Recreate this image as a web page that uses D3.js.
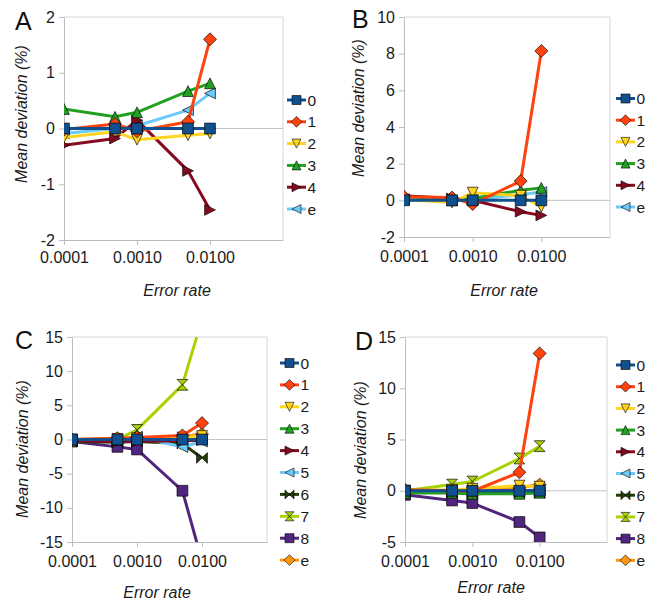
<!DOCTYPE html>
<html><head><meta charset="utf-8">
<script src="https://cdn.jsdelivr.net/npm/d3@7"></script>
<style>html,body{margin:0;padding:0;background:#fff;} svg{display:block;font-family:"Liberation Sans",Arial,sans-serif;}</style>
</head><body>
<svg id="chart" width="660" height="602"></svg>
<script>
// ---- data ----
const errorRates = [0.0001, 0.0005, 0.001, 0.005, 0.01];
const xTickValues = [0.0001, 0.001, 0.01];
const xTickLabels = ["0.0001", "0.0010", "0.0100"];

const seriesNamesAB = ["0", "1", "2", "3", "4", "e"];
const seriesNamesCD = ["0", "1", "2", "3", "4", "5", "6", "7", "8", "e"];

const yTicksA = [-2, -1, 0, 1, 2];
const yTicksB = [-2, 0, 2, 4, 6, 8, 10];
const yTicksC = [-15, -10, -5, 0, 5, 10, 15];
const yTicksD = [-5, 0, 5, 10, 15];

const valuesA = [
  [0, 0, 0, 0, 0],
  [-0.02, 0.08, -0.05, 0.12, 1.6],
  [-0.16, -0.06, -0.2, -0.12, -0.09],
  [0.35, 0.21, 0.29, 0.67, 0.81],
  [-0.3, -0.18, 0.15, -0.76, -1.46],
  [-0.09, 0.0, 0.05, 0.33, 0.63]
];
const valuesB = [
  [0, 0, 0, 0, 0],
  [0.2, 0.15, -0.2, 1.05, 8.15],
  [0.05, -0.12, 0.42, 0.25, -0.35],
  [0.1, 0.0, 0.1, 0.55, 0.68],
  [0.25, 0.1, 0.0, -0.62, -0.82],
  [0.05, 0.0, 0.05, 0.3, 0.45]
];
const valuesC = [
  [0, 0, 0, 0, 0],
  [0, 0.2, 0.3, 0.6, 2.4],
  [0, 0.1, 0.2, 0.3, 0.5],
  [0, 0.0, 0.1, 0.2, 0.3],
  [-0.2, -0.3, -0.3, -0.2, -0.1],
  [0, 0.0, 0.4, -1.1, -0.3],
  [-0.3, -0.4, -0.3, -0.6, -2.7],
  [-0.2, 0.0, 1.4, 8.0, 17.6],
  [-0.3, -1.08, -1.46, -7.5, -17.8],
  [0, 0.1, 0.2, 0.4, 0.8]
];
const valuesD = [
  [0, 0, 0, 0, 0],
  [0.1, 0.0, -0.05, 1.8, 13.4],
  [0, 0.1, 0.2, 0.5, 0.4],
  [-0.2, -0.2, -0.3, -0.3, -0.2],
  [0, 0, 0, 0, 0],
  [0, 0, 0, 0, 0.1],
  [-0.2, -0.2, -0.3, -0.2, -0.2],
  [0, 0.6, 0.9, 3.15, 4.35],
  [-0.4, -0.95, -1.2, -3.05, -4.55],
  [0, 0, 0, 0.3, 0.6]
];

// ---- styles ----
const colorsAB = ["#11508f", "#ff420e", "#ffd320", "#22a022", "#850a20", "#6ccaf8"];
const shapesAB = ["square", "diamond", "down", "up", "right", "left"];
const colorsCD = ["#11508f", "#ff420e", "#ffd320", "#22a022", "#850a20", "#6ccaf8", "#263d0a", "#a8d200", "#51257e", "#ff950e"];
const shapesCD = ["square", "diamond", "down", "up", "right", "left", "bowtie", "hourglass", "square", "diamond"];

function markerPath(type, r) {
  switch (type) {
    case "square": return `M${-r},${-r}H${r}V${r}H${-r}Z`;
    case "diamond": { const q = r * 1.2; return `M0,${-q}L${q},0L0,${q}L${-q},0Z`; }
    case "down": return `M${-r},${-r}L${r},${-r}L0,${r}Z`;
    case "up": return `M0,${-r}L${r},${r}L${-r},${r}Z`;
    case "right": return `M${-r},${-r}L${r},0L${-r},${r}Z`;
    case "left": return `M${r},${-r}L${-r},0L${r},${r}Z`;
    case "bowtie": return `M${-r},${-r}L${r},${r}L${r},${-r}L${-r},${r}Z`;
    case "hourglass": return `M${-r},${-r}L${r},${-r}L${-r},${r}L${r},${r}Z`;
  }
}

const svg = d3.select("#chart");

const panels = [
  { id: "A", names: seriesNamesAB, values: valuesA, colors: colorsAB, shapes: shapesAB, yDomain: [-2, 2], yTicks: yTicksA,
    plot: { x0: 64, x1: 283, y0: 17, y1: 240 }, legend: { x: 287, y: 100, dy: 21.8 },
    letter: { x: 15, y: 30 }, ylab: { x: 27, cy: 114 }, xlab: { cx: 177, y: 296 }, xpad: 7 },
  { id: "B", names: seriesNamesAB, values: valuesB, colors: colorsAB, shapes: shapesAB, yDomain: [-2, 10], yTicks: yTicksB,
    plot: { x0: 404, x1: 610, y0: 17, y1: 237 }, legend: { x: 616, y: 98.5, dy: 21.7 },
    letter: { x: 352, y: 28 }, ylab: { x: 364, cy: 108 }, xlab: { cx: 504, y: 296 }, xpad: 9 },
  { id: "C", names: seriesNamesCD, values: valuesC, colors: colorsCD, shapes: shapesCD, yDomain: [-15, 15], yTicks: yTicksC,
    plot: { x0: 72, x1: 267, y0: 337, y1: 542 }, legend: { x: 280, y: 363, dy: 21.9 },
    letter: { x: 15, y: 349 }, ylab: { x: 28, cy: 449 }, xlab: { cx: 157, y: 598 }, xpad: 9 },
  { id: "D", names: seriesNamesCD, values: valuesD, colors: colorsCD, shapes: shapesCD, yDomain: [-5, 15], yTicks: yTicksD,
    plot: { x0: 405, x1: 607, y0: 337, y1: 542 }, legend: { x: 616, y: 365, dy: 21.7 },
    letter: { x: 355, y: 350 }, ylab: { x: 366, cy: 450 }, xlab: { cx: 491, y: 593 }, xpad: 9 }
];

panels.forEach(p => {
  const g = svg.append("g");
  const { x0, x1, y0, y1 } = p.plot;
  const x = d3.scaleLog().domain([1e-4, 1e-1]).range([x0, x1]);
  const y = d3.scaleLinear().domain(p.yDomain).range([y1, y0]);

  // frame (top/right)
  g.append("path").attr("d", `M${x0},${y0}H${x1}V${y1}`).attr("fill", "none").attr("stroke", "#d6d6d6").attr("stroke-width", 1);
  // zero line
  g.append("line").attr("x1", x0).attr("x2", x1).attr("y1", y(0)).attr("y2", y(0)).attr("stroke", "#c4c4c4").attr("stroke-width", 1);

  const yAxis = d3.axisLeft(y).tickValues(p.yTicks).tickSize(5).tickSizeOuter(0).tickPadding(4).tickFormat(d => String(d));
  const ya = g.append("g").attr("transform", `translate(${x0},0)`).call(yAxis);
  const xAxis = d3.axisBottom(x).tickValues(xTickValues).tickSize(5).tickSizeOuter(0).tickPadding(p.xpad).tickFormat((d, i) => xTickLabels[i]);
  const xa = g.append("g").attr("transform", `translate(0,${y1})`).call(xAxis);
  [ya, xa].forEach(a => {
    a.select(".domain").attr("stroke", "#bdbdbd");
    a.selectAll(".tick line").attr("stroke", "#bdbdbd");
    a.selectAll(".tick text").attr("fill", "#1a1a1a").style("font-size", "16px").style("font-family", "'Liberation Sans',Arial,sans-serif");
  });

  // clip
  const clipId = "clip" + p.id;
  g.append("clipPath").attr("id", clipId).append("rect").attr("x", x0).attr("y", y0).attr("width", x1 - x0).attr("height", y1 - y0);
  const plotG = g.append("g").attr("clip-path", `url(#${clipId})`);

  const line = d3.line().x((d, i) => x(errorRates[i])).y(d => y(d));
  // draw in reverse so series 0 is on top
  for (let s = p.names.length - 1; s >= 0; s--) {
    const sg = plotG.append("g");
    sg.append("path").datum(p.values[s]).attr("d", line).attr("fill", "none")
      .attr("stroke", p.colors[s]).attr("stroke-width", 3).attr("stroke-linejoin", "round");
    sg.selectAll("path.m").data(p.values[s]).enter().append("path").attr("class", "m")
      .attr("transform", (d, i) => `translate(${x(errorRates[i])},${y(d)})`)
      .attr("d", markerPath(p.shapes[s], 5.4))
      .attr("fill", p.colors[s]).attr("stroke", "rgba(0,0,0,0.75)").attr("stroke-width", 0.9);
  }

  // legend
  const lg = g.append("g");
  p.names.forEach((n, s) => {
    const ly = p.legend.y + s * p.legend.dy;
    lg.append("line").attr("x1", p.legend.x).attr("x2", p.legend.x + 19).attr("y1", ly).attr("y2", ly)
      .attr("stroke", p.colors[s]).attr("stroke-width", 3);
    lg.append("path").attr("transform", `translate(${p.legend.x + 9.5},${ly})`).attr("d", markerPath(p.shapes[s], 4.5))
      .attr("fill", p.colors[s]).attr("stroke", "rgba(0,0,0,0.75)").attr("stroke-width", 0.8);
    lg.append("text").attr("x", p.legend.x + 20.5).attr("y", ly).attr("dy", "0.36em")
      .style("font-size", "15.5px").attr("fill", "#1a1a1a").text(n);
  });

  // labels
  g.append("text").attr("x", p.letter.x).attr("y", p.letter.y).style("font-size", "25px").attr("fill", "#111").text(p.id);
  g.append("text").attr("transform", `translate(${p.ylab.x},${p.ylab.cy}) rotate(-90)`).attr("text-anchor", "middle")
    .style("font-size", "16px").style("font-style", "italic").attr("fill", "#1a1a1a").text("Mean deviation (%)");
  g.append("text").attr("x", p.xlab.cx).attr("y", p.xlab.y).attr("text-anchor", "middle")
    .style("font-size", "16px").style("font-style", "italic").attr("fill", "#1a1a1a").text("Error rate");
});
</script>
</body></html>
